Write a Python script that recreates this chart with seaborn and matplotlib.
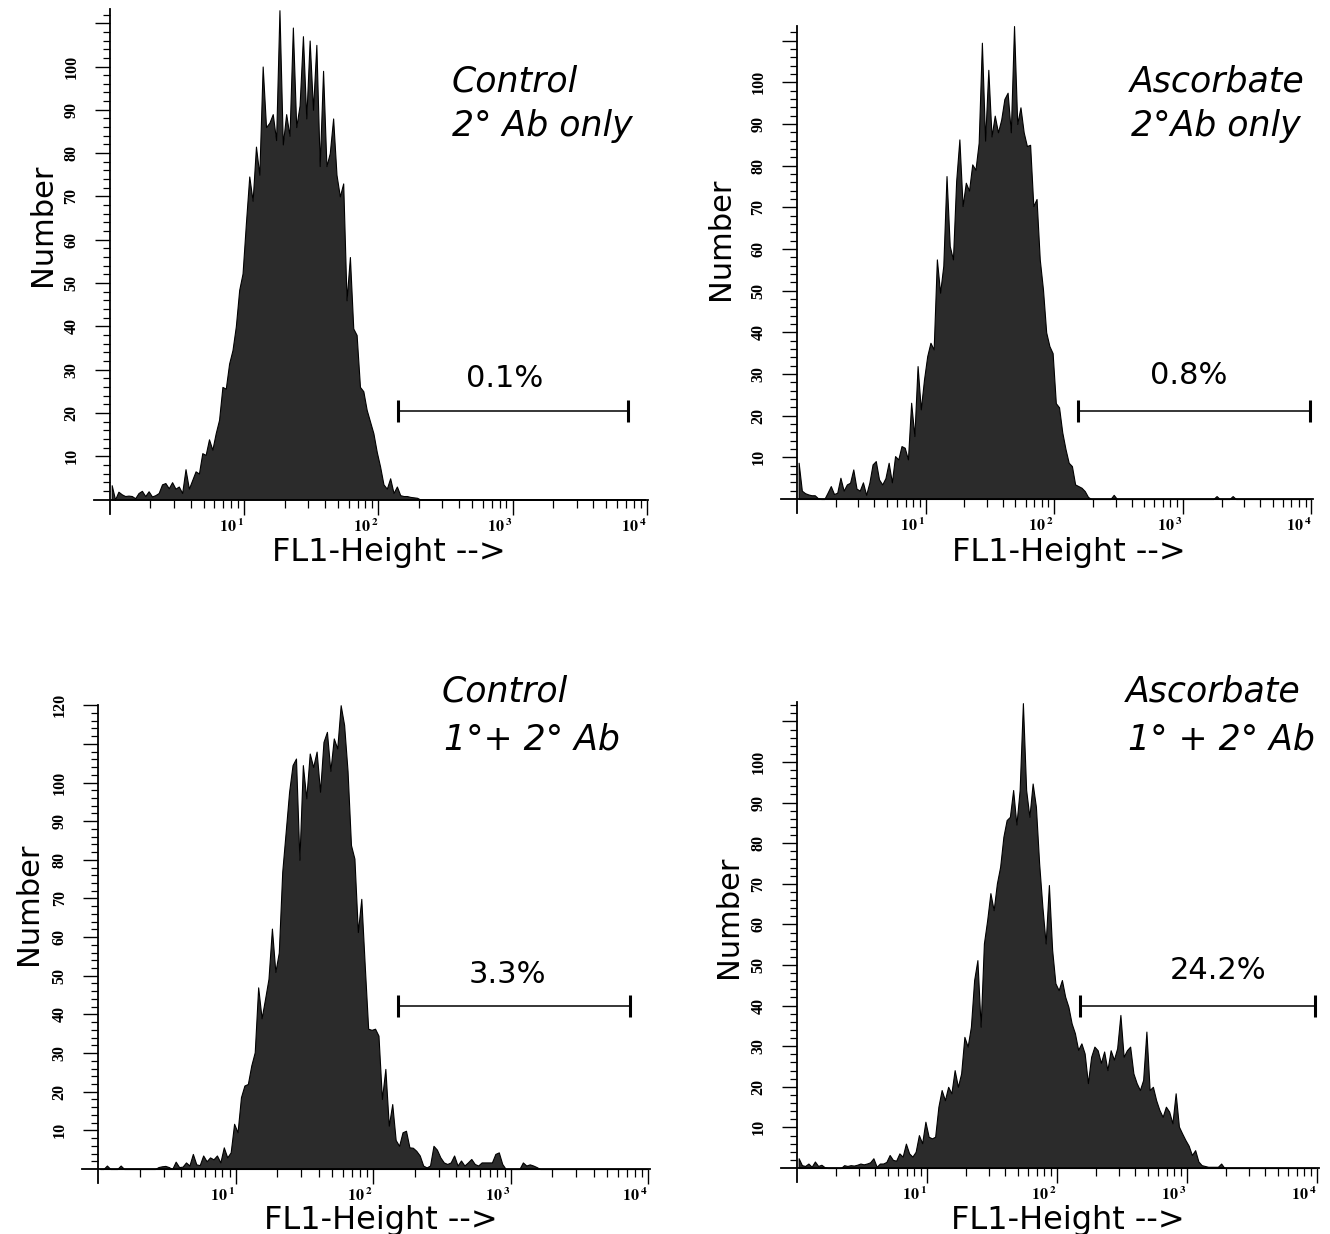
import numpy as np
import pandas as pd
import matplotlib
matplotlib.use("Agg")
import matplotlib.pyplot as plt
from matplotlib.ticker import FixedLocator, NullFormatter, FixedFormatter
import seaborn as sns

# ------------------------------------------------------------------
# DATA: event counts per channel,
# channels are 1/40-decade bins starting at FL1 = 10^0
# ------------------------------------------------------------------
BINS_PER_DECADE = 40

control_2ab = [
    3.3, 0, 1.8, 1.2, 0.8, 0.9, 0.8, 0.3, 1.5, 2.0,
    0.8, 1.9, 0.7, 1.0, 1.5, 3.5, 3.8, 2.6, 4.0, 2.5,
    3.0, 1.5, 7.0, 2.5, 4.5, 6.5, 6.0, 10.7, 10.3, 13.9,
    11.5, 15.3, 18.4, 26, 25.6, 31.4, 34.5, 40, 48.4, 52.2,
    63.8, 74.6, 69, 81.5, 75, 100, 86, 87, 89, 83,
    113, 82, 89, 84, 109, 86, 91, 107, 88, 106,
    90, 105, 77, 99, 77, 80, 88, 75, 70, 73,
    46, 56, 39.5, 38, 26, 25, 20.7, 18, 15.3, 11,
    7.6, 3.5, 2.5, 4.9, 1.5, 3.0, 1.0, 0.8, 0.8, 0.6,
    0.5, 0.4,
]

ascorbate_2ab = [
    8.7, 2.0, 1.4, 1.1, 0.9, 0.9, 0.2, 0, 0, 1.5,
    3.1, 1.2, 1.5, 5.1, 2.0, 3.5, 3.9, 7.1, 2.5, 2.0,
    4.0, 1.0, 3.9, 8.3, 9.1, 4.7, 3.5, 5.0, 8.7, 4.0,
    10.3, 9.5, 12.7, 12.3, 9.5, 23.1, 15.1, 31.9, 21.5, 28.7,
    34.3, 37.5, 35.9, 57.5, 49.5, 56, 77.5, 60.7, 57.5, 76.3,
    86.3, 70.3, 75.9, 74, 80.3, 79, 85.5, 109.5, 86, 103,
    87, 92, 88, 91, 96, 97.5, 88, 113.5, 90, 94,
    88, 84.7, 85, 70.3, 72, 57.5, 50.3, 40, 36.7, 35,
    23, 22, 16, 12, 8.7, 7.9, 3.5, 3.1, 2.7, 1.9,
    0.5,
]
# isolated bright events in the ascorbate 2° Ab only sample
ascorbate_2ab_extra_fl1 = [282, 1820, 2510]
ascorbate_2ab_extra_n = [1.0, 0.7, 0.7]

control_12ab = [
    0, 0, 0.9, 0, 0, 0, 0.9, 0, 0, 0,
    0, 0, 0, 0, 0, 0, 0, 0.5, 0.7, 0.8,
    0.5, 0, 1.9, 0.5, 0.6, 1.7, 0.9, 3.9, 1.2, 1.0,
    3.5, 2.0, 3.0, 2.5, 3.5, 1.7, 5.6, 3.0, 4.3, 11.7,
    9.5, 18.6, 21.6, 22, 26.8, 30.2, 47, 39, 44, 49.2,
    62.2, 51, 56, 76.9, 87.2, 97.6, 104.5, 106.2, 80, 104.5,
    95.9, 107.5, 104, 108, 97.6, 110.5, 113.1, 103, 111.4, 108.8,
    120, 114.9, 103, 83.8, 80.3, 61.3, 69.9, 52.7, 36.3, 36,
    36.3, 34.5, 18.1, 25.9, 11.2, 16.8, 7.5, 6.0, 9.5, 9.9,
    5.6, 5.5, 4.7, 3.5, 0.9, 0.4, 0.9, 6.0, 5.0, 3.0,
    1.7, 1.3, 1.7, 3.5, 0.9, 2.2, 0.9, 1.7, 2.6, 1.3,
    0.9, 1.7, 1.7, 1.7, 1.7, 3.9, 4.3, 1.3, 0, 0,
    0, 0, 0, 1.7, 0.9, 1.2, 0.9, 0.5,
]

ascorbate_12ab = [
    2.4, 0.7, 0.5, 1.1, 0.3, 1.6, 0.5, 0.8, 0.2, 0,
    0, 0, 0, 0, 0.7, 0.5, 0.7, 0.6, 0.8, 1.1,
    0.9, 1.1, 1.4, 2.4, 0.3, 1.1, 1.1, 1.5, 3.2, 2.0,
    1.8, 3.6, 2.8, 6.0, 3.6, 2.8, 4.0, 8.1, 6.1, 11.4,
    7.7, 7.3, 7.7, 15.1, 19.2, 16.7, 20, 18.4, 24.1, 20,
    23.3, 32.3, 29.9, 34.8, 46.3, 51.2, 34.8, 55.3, 61, 67.7,
    63.5, 70.1, 74.2, 81.6, 85.7, 86.5, 93.1, 84.6, 93.1, 114.5,
    93.1, 86.5, 94.7, 89, 75, 64.3, 55.3, 69.7, 53.7, 45.5,
    43.8, 46.3, 42.2, 39.7, 35.6, 33.2, 29.1, 30.7, 28.2, 20.9,
    27.4, 29.9, 29, 25.9, 28.7, 24.1, 29, 26.7, 29.5, 37.7,
    27.4, 29, 29.9, 23.3, 20.9, 19.2, 21.7, 33.6, 19.2, 20,
    16.7, 14.3, 12.6, 15.1, 13.9, 11, 18.4, 10.2, 8.5, 6.9,
    5.5, 3.2, 4.4, 1.6, 0.7, 0.5, 0.3, 0.3, 0.3, 0.3,
    1.1,
]

series = [control_2ab, ascorbate_2ab, control_12ab, ascorbate_12ab]
extra_fl1 = [[], ascorbate_2ab_extra_fl1, [], []]
extra_n = [[], ascorbate_2ab_extra_n, [], []]

title_line1 = ["Control", "Ascorbate", "Control", "Ascorbate"]
title_line2 = ["2° Ab only", "2°Ab only", "1°+ 2° Ab", "1° + 2° Ab"]
gate_percent = ["0.1%", "0.8%", "3.3%", "24.2%"]
gate_low = [141, 152, 152, 149]
gate_high = [7280, 9750, 7360, 9660]
gate_level = [20.4, 21.1, 42.1, 39.9]

y_labelled = [
    [10, 20, 30, 40, 50, 60, 70, 80, 90, 100],
    [10, 20, 30, 40, 50, 60, 70, 80, 90, 100],
    [10, 20, 30, 40, 50, 60, 70, 80, 90, 100, 120],
    [10, 20, 30, 40, 50, 60, 70, 80, 90, 100],
]
x_major = [10, 100, 1000, 10000]
x_major_text = [r"$\mathbf{10}^{\;\mathbf{1}}$", r"$\mathbf{10}^{\;\mathbf{2}}$",
                r"$\mathbf{10}^{\;\mathbf{3}}$", r"$\mathbf{10}^{\;\mathbf{4}}$"]
x_label = "FL1-Height -->"
y_label = "Number"

# ------------------------------------------------------------------
# LAYOUT (pixels of a 1330 x 1234 canvas)
# ------------------------------------------------------------------
W, H = 1330, 1234
EXT_L, EXT_B = 16, 14
panels = [
    dict(x0=110.0, d=134.2, yb=499.5, u=4.33, ymax=113.3,
         ylab=(42, 225), xlab=(389, 561), t1=(452, 91), t2=(452, 136), pct=(505, 386.5)),
    dict(x0=797.0, d=128.6, yb=499.0, u=4.167, ymax=113.6,
         ylab=(721, 239), xlab=(1069, 561), t1=(1130, 92), t2=(1131, 136), pct=(1189, 384)),
    dict(x0=98.3, d=137.5, yb=1169.0, u=3.865, ymax=120.0,
         ylab=(29, 904), xlab=(381, 1229), t1=(442, 702), t2=(444, 749), pct=(507, 983)),
    dict(x0=797.0, d=130.0, yb=1168.0, u=4.06, ymax=114.8,
         ylab=(728, 917), xlab=(1068, 1229), t1=(1126, 702), t2=(1128, 749), pct=(1218, 979)),
]
FILL = "#2b2b2b"

sns.set_style("ticks", {"xtick.bottom": True, "ytick.left": True,
                        "xtick.color": "black", "ytick.color": "black",
                        "text.color": "black", "axes.labelcolor": "black",
                        "axes.edgecolor": "black"})
plt.rcParams["font.family"] = ["DejaVu Sans"]
plt.rcParams["mathtext.fontset"] = "stix"
plt.rcParams["text.color"] = "black"

fig = plt.figure(figsize=(W / 100, H / 100), dpi=100)


def fx(x):
    return x / W


def fy(y):
    return 1 - y / H


minor_x = [m * 10 ** k for k in range(0, 4) for m in range(2, 10)]

for i, p in enumerate(panels):
    left = p["x0"] - EXT_L
    right = p["x0"] + 4 * p["d"] + 1.5
    top = p["yb"] - p["ymax"] * p["u"]
    bottom = p["yb"] + EXT_B
    ax = fig.add_axes([left / W, 1 - bottom / H, (right - left) / W, (bottom - top) / H])

    counts = series[i]
    centers = 10 ** ((np.arange(len(counts)) + 0.5) / BINS_PER_DECADE)
    df = pd.DataFrame({"FL1": list(centers) + extra_fl1[i],
                       "n": list(counts) + extra_n[i]})
    sns.histplot(data=df, x="FL1", weights="n", binwidth=1 / BINS_PER_DECADE,
                 binrange=(0, 4), log_scale=True, element="poly", fill=True,
                 color=FILL, edgecolor="black", linewidth=0.8, alpha=1, ax=ax)

    ax.set_xlim(10 ** (-EXT_L / p["d"]), 10 ** (4 + 1.5 / p["d"]))
    ax.set_ylim(-EXT_B / p["u"], p["ymax"])
    ax.set_xlabel("")
    ax.set_ylabel("")

    for s in ("top", "right"):
        ax.spines[s].set_visible(False)
    ax.spines["left"].set_position(("data", 1.0))
    ax.spines["bottom"].set_position(("data", 0.0))
    for s in ("left", "bottom"):
        ax.spines[s].set_color("black")
        ax.spines[s].set_linewidth(1.3)

    # x ticks
    ax.xaxis.set_major_locator(FixedLocator(x_major))
    ax.xaxis.set_major_formatter(FixedFormatter(x_major_text))
    ax.xaxis.set_minor_locator(FixedLocator(minor_x))
    ax.xaxis.set_minor_formatter(NullFormatter())
    ax.tick_params(axis="x", which="major", bottom=True, direction="out", length=11,
                   width=1.0, pad=2, labelsize=11.5, colors="black")
    ax.tick_params(axis="x", which="minor", bottom=True, direction="out", length=5.4,
                   width=0.9, colors="black")
    for lab in ax.get_xticklabels():
        lab.set_horizontalalignment("right")

    # y ticks
    ymax = p["ymax"]
    majors = [v for v in range(10, int(ymax) + 1, 10)]
    ax.yaxis.set_major_locator(FixedLocator(majors))
    ax.yaxis.set_major_formatter(FixedFormatter(
        [str(v) if v in y_labelled[i] else "" for v in majors]))
    ax.yaxis.set_minor_locator(FixedLocator([v for v in range(2, int(ymax) + 1, 2)
                                             if v % 10 != 0]))
    ax.yaxis.set_minor_formatter(NullFormatter())
    ax.tick_params(axis="y", which="major", left=True, direction="out", length=11,
                   width=1.0, pad=11, labelsize=11.5, labelrotation=90, colors="black")
    ax.tick_params(axis="y", which="minor", left=True, direction="out", length=5.4,
                   width=0.9, colors="black")
    for lab in ax.get_yticklabels():
        lab.set_family("Liberation Serif")
        lab.set_weight("bold")
        lab.set_verticalalignment("center")

    # gate marker
    ax.plot([gate_low[i], gate_high[i]], [gate_level[i], gate_level[i]],
            color="black", lw=1.1, marker="|", markersize=16, markeredgewidth=2.2,
            solid_capstyle="butt")

    # texts
    fig.text(fx(p["ylab"][0]), fy(p["ylab"][1]), y_label, rotation=90,
             ha="center", va="center", fontsize=22, color="black")
    fig.text(fx(p["xlab"][0]), fy(p["xlab"][1]), x_label, ha="center",
             va="baseline", fontsize=23, color="black")
    fig.text(fx(p["t1"][0]), fy(p["t1"][1]), title_line1[i], ha="left",
             va="baseline", fontsize=25, style="italic", color="black")
    fig.text(fx(p["t2"][0]), fy(p["t2"][1]), title_line2[i], ha="left",
             va="baseline", fontsize=25, style="italic", color="black")
    fig.text(fx(p["pct"][0]), fy(p["pct"][1]), gate_percent[i], ha="center",
             va="baseline", fontsize=22, color="black")

fig.savefig("out.png", dpi=100, facecolor="white")
